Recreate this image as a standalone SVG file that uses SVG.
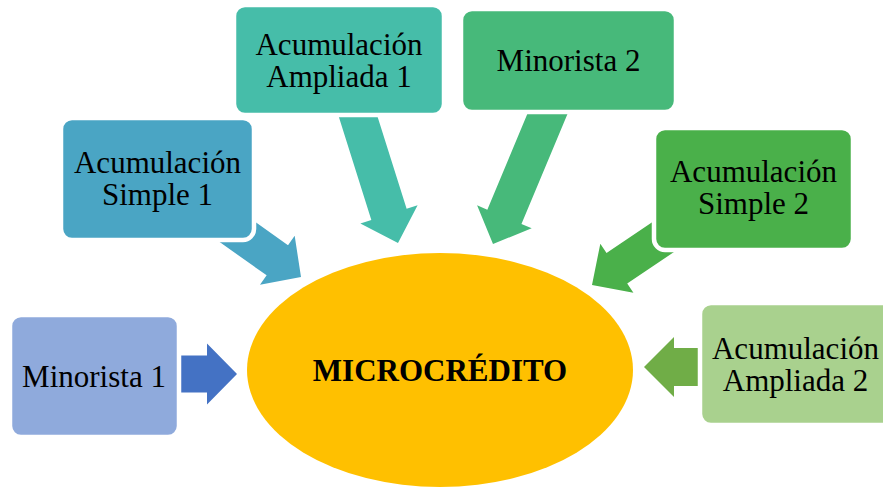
<svg xmlns="http://www.w3.org/2000/svg" width="883" height="487" viewBox="0 0 883 487">
<style>
.box{stroke:#fff;stroke-width:4.5}
.t{font-family:"Liberation Serif","Times New Roman",serif;font-size:31px;fill:#000;text-anchor:middle}
.b{font-weight:bold}
</style>
<rect width="883" height="487" fill="#fff"/>
<g id="center">
<ellipse cx="440" cy="370" rx="193" ry="117" fill="#FFC000"/>
<text class="t b" x="440" y="381">MICROCRÉDITO</text>
</g>
<g id="connectors">
<path transform="translate(237,374)" d="M0,0 L-30,-30.5 L-30,-18.5 L-57,-18.5 L-57,18.5 L-30,18.5 L-30,30.5 Z" fill="#4472C4"/>
<path transform="translate(301,277) rotate(35.3)" d="M0,0 L-29,-30 L-29,-18.5 L-100,-18.5 L-100,18.5 L-29,18.5 L-29,30 Z" fill="#4AA5C4"/>
<path transform="translate(398,243) rotate(72.5)" d="M0,0 L-30,-30 L-30,-18.5 L-145,-18.5 L-145,18.5 L-30,18.5 L-30,30 Z" fill="#46BDA9"/>
<path transform="translate(493,244) rotate(112.7)" d="M0,0 L-29.5,-29.6 L-29.5,-18.5 L-158,-18.5 L-158,18.5 L-29.5,18.5 L-29.5,29.6 Z" fill="#47B97A"/>
<path transform="translate(592,285) rotate(146)" d="M0,0 L-30,-29.6 L-30,-18.5 L-110,-18.5 L-110,18.5 L-30,18.5 L-30,29.6 Z" fill="#4AB04A"/>
<path transform="translate(644,367) rotate(180)" d="M0,0 L-30,-30 L-30,-19 L-54,-19 L-54,19 L-30,19 L-30,30 Z" fill="#70AD47"/>
</g>
<g id="minorista1">
<rect class="box" x="10" y="315" width="169" height="122" rx="11" fill="#8FAADC"/>
<text class="t" x="94" y="387">Minorista 1</text>
</g>
<g id="simple1">
<rect class="box" x="61" y="118" width="193" height="122" rx="11" fill="#4AA5C4"/>
<text class="t" x="157.5" y="173">Acumulación</text>
<text class="t" x="157.5" y="205">Simple 1</text>
</g>
<g id="ampliada1">
<rect class="box" x="234" y="5" width="210" height="110" rx="11" fill="#46BDA9"/>
<text class="t" x="339" y="55">Acumulación</text>
<text class="t" x="339" y="87">Ampliada 1</text>
</g>
<g id="minorista2">
<rect class="box" x="461" y="9" width="215" height="103" rx="11" fill="#47B97A"/>
<text class="t" x="568.5" y="71">Minorista 2</text>
</g>
<g id="simple2">
<rect class="box" x="654" y="128" width="199" height="122" rx="11" fill="#4AB04A"/>
<text class="t" x="753.5" y="182">Acumulación</text>
<text class="t" x="753.5" y="214">Simple 2</text>
</g>
<g id="ampliada2">
<rect class="box" x="700" y="303" width="194" height="122" rx="11" fill="#A9D18E"/>
<text class="t" x="795.5" y="359">Acumulación</text>
<text class="t" x="795.5" y="391">Ampliada 2</text>
</g>
</svg>
